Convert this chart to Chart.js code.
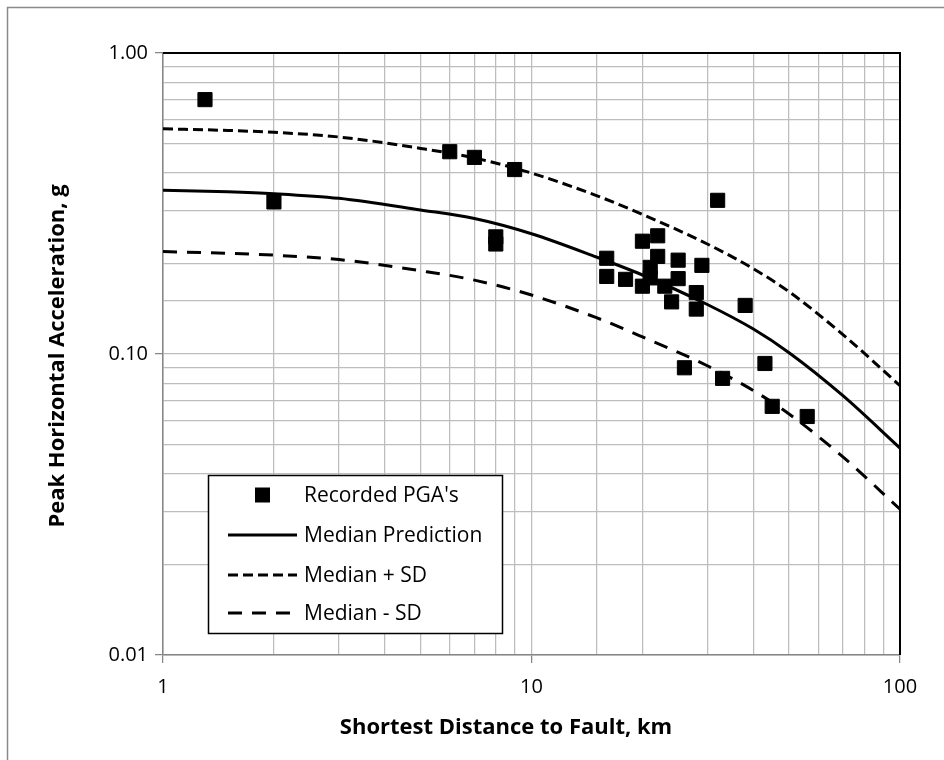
<!DOCTYPE html>
<html>
<head>
<meta charset="utf-8">
<title>PGA vs distance</title>
<script src="https://cdn.jsdelivr.net/npm/chart.js@4.4.1/dist/chart.umd.min.js"></script>
<style>
  html, body { margin: 0; padding: 0; background: #fff; }
  canvas { display: block; }
</style>
</head>
<body>
<canvas id="pga" width="944" height="760"></canvas>
<script>
// recorded peak ground accelerations (g) vs shortest distance to fault (km)
const recDist = [1.3, 2, 6, 7, 9, 8, 8, 16, 16, 18, 20, 20, 21, 21, 22, 22, 23, 24, 25, 25,
  28, 28, 29, 32, 38, 26, 33, 43, 45, 56];
const recPga = [0.70, 0.32, 0.47, 0.45, 0.41, 0.245, 0.232, 0.208, 0.181, 0.177, 0.237, 0.168,
  0.194, 0.179, 0.247, 0.211, 0.168, 0.149, 0.205, 0.178, 0.160, 0.141, 0.197, 0.324, 0.145,
  0.090, 0.083, 0.093, 0.067, 0.062];

// attenuation curve, read at these distances
const curveDist = [1, 1.5, 2, 3, 5, 7, 10, 15, 20, 30, 40, 50, 70, 100];
const medianPga = [0.350, 0.346, 0.341, 0.329, 0.301, 0.282, 0.251, 0.210, 0.183, 0.146, 0.121, 0.101, 0.0727, 0.0487];
const plusSdPga = [0.560, 0.553, 0.545, 0.526, 0.482, 0.448, 0.399, 0.336, 0.291, 0.232, 0.192, 0.161, 0.116, 0.0785];
const minusSdPga = [0.219, 0.216, 0.213, 0.206, 0.189, 0.176, 0.157, 0.132, 0.114, 0.0914, 0.0756, 0.0632, 0.0455, 0.0305];

const xTitle = "Shortest Distance to Fault, km";
const yTitle = "Peak Horizontal Acceleration, g";

const FONT = "'Open Sans', 'Noto Sans', sans-serif";
const GRID = "#bdbdbd";
const AXIS = "#868686";

const pts = (xs, ys) => xs.map((x, i) => ({ x, y: ys[i] }));
const isDecade = (v) => Math.abs(Math.log10(v) - Math.round(Math.log10(v))) < 1e-6;

function curve(label, ys, dash) {
  return {
    label, data: pts(curveDist, ys), showLine: true, pointRadius: 0,
    borderColor: "#000", borderWidth: 3, borderDash: dash, borderCapStyle: "butt",
    cubicInterpolationMode: "monotone", fill: false,
  };
}

// chart frame: grey outer border, black top/right plot border, axis titles
const frame = {
  id: "frame",
  beforeDraw(chart) {
    const c = chart.ctx;
    c.save();
    c.strokeStyle = "#8a8a8a";
    c.lineWidth = 1.5;
    c.strokeRect(7.5, 7.5, 1200, 1200);
    c.restore();
  },
  beforeDatasetsDraw(chart) {
    const { ctx: c, chartArea: a } = chart;
    c.save();
    c.strokeStyle = "#000";
    c.lineWidth = 2;
    c.beginPath();
    c.moveTo(a.left, a.top);
    c.lineTo(a.right, a.top);
    c.lineTo(a.right, a.bottom);
    c.stroke();
    c.restore();
  },
  afterDraw(chart) {
    const c = chart.ctx;
    c.save();
    c.fillStyle = "#000";
    c.font = `bold 22px ${FONT}`;
    c.textAlign = "center";
    c.textBaseline = "middle";
    c.fillText(xTitle, 506, 728);
    c.translate(58, 356);
    c.rotate(-Math.PI / 2);
    c.fillText(yTitle, 0, 0);
    c.restore();
  },
};

// boxed legend sitting inside the plot area
const LEG = { x: 208, y: 475, w: 294, h: 158, rows: [495, 535, 575, 613], sx0: 228, sx1: 297, tx: 304 };
const legendBox = {
  id: "legendBox",
  afterDatasetsDraw(chart) {
    const c = chart.ctx;
    c.save();
    c.fillStyle = "#fff";
    c.fillRect(LEG.x, LEG.y, LEG.w, LEG.h);
    c.strokeStyle = "#000";
    c.lineWidth = 1.5;
    c.strokeRect(LEG.x + 0.5, LEG.y + 0.5, LEG.w, LEG.h);
    c.font = `21px ${FONT}`;
    c.textBaseline = "middle";
    chart.data.datasets.forEach((ds, i) => {
      const y = LEG.rows[i];
      if (ds.showLine) {
        c.strokeStyle = ds.borderColor;
        c.lineWidth = ds.borderWidth;
        c.setLineDash(ds.borderDash || []);
        c.beginPath();
        c.moveTo(LEG.sx0, y);
        c.lineTo(LEG.sx1, y);
        c.stroke();
        c.setLineDash([]);
      } else {
        c.fillStyle = ds.backgroundColor;
        c.fillRect((LEG.sx0 + LEG.sx1) / 2 - 7.5, y - 7.5, 15, 15);
      }
      c.fillStyle = "#000";
      c.fillText(ds.label, LEG.tx, y + 1);
    });
    c.restore();
  },
};

new Chart(document.getElementById("pga"), {
  type: "scatter",
  data: {
    datasets: [
      {
        label: "Recorded PGA's", data: pts(recDist, recPga), pointStyle: "rect",
        pointRadius: 10, pointHoverRadius: 10, backgroundColor: "#000", borderColor: "#000", borderWidth: 1,
      },
      curve("Median Prediction", medianPga, []),
      curve("Median + SD", plusSdPga, [10, 5]),
      curve("Median - SD", minusSdPga, [14, 10]),
    ],
  },
  options: {
    responsive: false,
    animation: false,
    layout: { padding: { top: 53, right: 44, left: 0, bottom: 0 } },
    plugins: { legend: { display: false }, tooltip: { enabled: false } },
    scales: {
      x: {
        type: "logarithmic", min: 1, max: 100,
        afterFit: (s) => { s.height = 105; },
        border: { color: AXIS, width: 1.5 },
        grid: {
          color: GRID, lineWidth: 1.25, tickLength: 8,
          tickColor: (ctx) => (ctx.tick && isDecade(ctx.tick.value) ? AXIS : "rgba(0,0,0,0)"),
        },
        ticks: {
          autoSkip: false, maxRotation: 0, padding: 12, color: "#000",
          font: { family: FONT, size: 20 },
          callback: (v) => (isDecade(v) ? String(Math.round(v)) : ""),
        },
      },
      y: {
        type: "logarithmic", min: 0.01, max: 1,
        afterFit: (s) => { s.width = 163; },
        border: { color: AXIS, width: 1.5 },
        grid: {
          color: GRID, lineWidth: 1.25, tickLength: 8,
          tickColor: (ctx) => (ctx.tick && isDecade(ctx.tick.value) ? AXIS : "rgba(0,0,0,0)"),
        },
        ticks: {
          autoSkip: false, padding: 7, color: "#000",
          font: { family: FONT, size: 20 },
          callback: (v) => (isDecade(v) ? v.toFixed(2) : ""),
        },
      },
    },
  },
  plugins: [frame, legendBox],
});
</script>
</body>
</html>
